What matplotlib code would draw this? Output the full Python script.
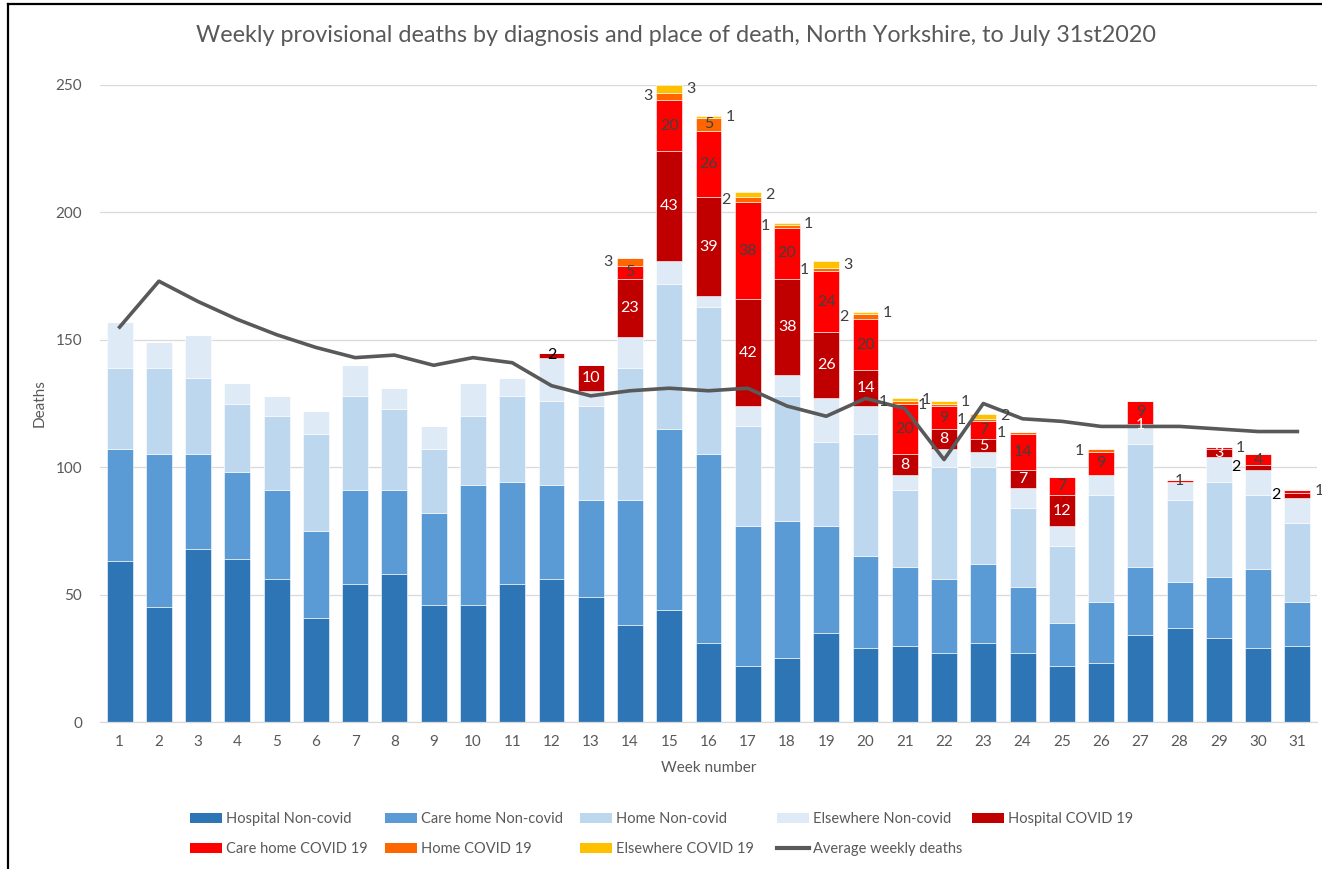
import numpy as np
import matplotlib
matplotlib.use("Agg")
import matplotlib.pyplot as plt
from matplotlib.lines import Line2D
from matplotlib.patches import Patch

plt.rcParams['font.family'] = ['Lato', 'DejaVu Sans']

# Data
weeks = list(range(1, 32))
hospital_noncovid = [63, 45, 68, 64, 56, 41, 54, 58, 46, 46, 54, 56, 49, 38, 44, 31,
                     22, 25, 35, 29, 30, 27, 31, 27, 22, 23, 34, 37, 33, 29, 30]
carehome_noncovid = [44, 60, 37, 34, 35, 34, 37, 33, 36, 47, 40, 37, 38, 49, 71, 74,
                     55, 54, 42, 36, 31, 29, 31, 26, 17, 24, 27, 18, 24, 31, 17]
home_noncovid = [32, 34, 30, 27, 29, 38, 37, 32, 25, 27, 34, 33, 37, 52, 57, 58,
                 39, 49, 33, 48, 30, 44, 38, 31, 30, 42, 48, 32, 37, 29, 31]
elsewhere_noncovid = [18, 10, 17, 8, 8, 9, 12, 8, 9, 13, 7, 17, 6, 12, 9, 4,
                      8, 8, 17, 11, 6, 7, 6, 8, 8, 8, 7, 7, 10, 10, 10]
hospital_covid = [0, 0, 0, 0, 0, 0, 0, 0, 0, 0, 0, 2, 10, 23, 43, 39,
                  42, 38, 26, 14, 8, 8, 5, 7, 12, 0, 1, 0, 3, 2, 2]
carehome_covid = [0, 0, 0, 0, 0, 0, 0, 0, 0, 0, 0, 0, 0, 5, 20, 26,
                  38, 20, 24, 20, 20, 9, 7, 14, 7, 9, 9, 1, 1, 4, 1]
home_covid = [0, 0, 0, 0, 0, 0, 0, 0, 0, 0, 0, 0, 0, 3, 3, 5,
              2, 1, 1, 2, 1, 1, 1, 1, 0, 1, 0, 0, 0, 0, 0]
elsewhere_covid = [0, 0, 0, 0, 0, 0, 0, 0, 0, 0, 0, 0, 0, 0, 3, 1,
                   2, 1, 3, 1, 1, 1, 2, 0, 0, 0, 0, 0, 0, 0, 0]
average_deaths = [155, 173, 165, 158, 152, 147, 143, 144, 140, 143, 141, 132, 128, 130, 131, 130,
                  131, 124, 120, 127, 123, 103, 125, 119, 118, 116, 116, 116, 115, 114, 114]

series_names = ["Hospital Non-covid", "Care home Non-covid", "Home Non-covid", "Elsewhere Non-covid",
                "Hospital COVID 19", "Care home COVID 19", "Home COVID 19", "Elsewhere COVID 19"]
series_colors = ["#2E75B6", "#5B9BD5", "#BDD7EE", "#DEEBF7",
                 "#C00000", "#FF0000", "#FF6600", "#FFC000"]
series_values = [hospital_noncovid, carehome_noncovid, home_noncovid, elsewhere_noncovid,
                 hospital_covid, carehome_covid, home_covid, elsewhere_covid]

# labels that sit beside the bar instead of inside it
left_labels = {("Hospital COVID 19", 30), ("Hospital COVID 19", 31)}
right_labels = {("Care home COVID 19", 29), ("Care home COVID 19", 31)}
black_labels = {("Hospital COVID 19", 12), ("Hospital COVID 19", 30), ("Hospital COVID 19", 31)}

grey = "#595959"

fig = plt.figure(figsize=(13.22, 8.69), dpi=100)
ax = fig.add_axes([100 / 1322, (869 - 722) / 869, 1217 / 1322, 637 / 869])

x = np.array(weeks)
width = 0.66
bottom = np.zeros(len(weeks))
for name, vals, col in zip(series_names, series_values, series_colors):
    vals = np.array(vals, dtype=float)
    ax.bar(x, vals, width, bottom=bottom, color=col, edgecolor="white", linewidth=0.4,
           label=name, zorder=2)
    if "COVID" in name:
        for wk, v, b in zip(weeks, vals, bottom):
            if v <= 0:
                continue
            mid = b + v / 2
            if name == "Home COVID 19" and v < 5:
                side = "left"
            elif name == "Elsewhere COVID 19":
                side = "right"
            elif (name, wk) in left_labels:
                side = "left"
            elif (name, wk) in right_labels:
                side = "right"
            else:
                side = "in"
            tc = "#404040"
            if side == "in" and name == "Hospital COVID 19":
                tc = "white"
            if (name, wk) in black_labels:
                tc = "black"
            if side == "in":
                ax.text(wk, mid, str(int(v)), ha="center", va="center", fontsize=11.5,
                        color=tc, zorder=4)
            elif side == "left":
                ax.annotate(str(int(v)), (wk - width / 2, mid), xytext=(-3, 0),
                            textcoords="offset points", ha="right", va="center",
                            fontsize=11.5, color=tc, zorder=4)
            else:
                ax.annotate(str(int(v)), (wk + width / 2, mid), xytext=(3, 0),
                            textcoords="offset points", ha="left", va="center",
                            fontsize=11.5, color=tc, zorder=4)
    bottom += vals

ax.plot(x, average_deaths, color=grey, linewidth=2.6, label="Average weekly deaths", zorder=3)

ax.set_xlim(0.5, 31.5)
ax.set_ylim(0, 250)
ax.set_yticks(range(0, 251, 50))
ax.set_xticks(weeks)
ax.yaxis.grid(True, color="#D9D9D9", linewidth=0.9, zorder=0)
ax.set_axisbelow(True)
for s in ["top", "right", "left"]:
    ax.spines[s].set_visible(False)
ax.spines["bottom"].set_color("#D9D9D9")
ax.spines["bottom"].set_linewidth(0.9)
ax.tick_params(axis="both", length=0, colors=grey, labelsize=11)
ax.tick_params(axis="x", pad=9)
ax.tick_params(axis="y", pad=13)
ax.set_xlabel("Week number", color=grey, fontsize=11, labelpad=9)
ax.set_ylabel("Deaths", color=grey, fontsize=11, labelpad=6)

fig.text(676 / 1322, 1 - 36 / 869,
         "Weekly provisional deaths by diagnosis and place of death, North Yorkshire, to July 31st2020",
         ha="center", va="center", fontsize=16.8, color=grey)

# legend: one small legend per column so the columns sit at even spacing
h = [Patch(facecolor=c, edgecolor="none") for c in series_colors]
h.append(Line2D([0], [0], color=grey, linewidth=3))
lab = series_names + ["Average weekly deaths"]
columns = [[0, 5], [1, 6], [2, 7], [3, 8], [4]]
col_x = [190, 385, 580, 777, 972]
for idx, cx in zip(columns, col_x):
    leg = fig.legend([h[i] for i in idx], [lab[i] for i in idx], frameon=False,
                     loc="upper left", bbox_to_anchor=(cx / 1322, 1 - 812 / 869),
                     borderpad=0, borderaxespad=0, fontsize=10.5, labelcolor=grey,
                     handlelength=2.2, handleheight=0.75, handletextpad=0.3,
                     labelspacing=1.1)

# screenshot frame on left and top
fig.add_artist(Line2D([8 / 1322, 8 / 1322], [0, 1 - 4 / 869], color="black", linewidth=1.6,
                      transform=fig.transFigure))
fig.add_artist(Line2D([8 / 1322, 1], [1 - 4 / 869, 1 - 4 / 869], color="black", linewidth=1.6,
                      transform=fig.transFigure))

fig.savefig("out.png", dpi=100)
